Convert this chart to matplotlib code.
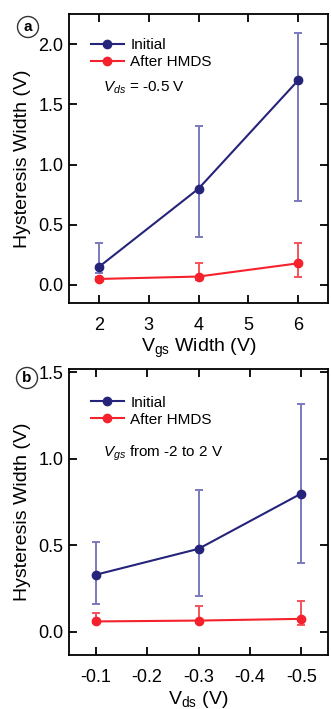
import numpy as np
import matplotlib.pyplot as plt
from matplotlib.patches import Circle

plt.rcParams['font.family'] = ['Liberation Sans', 'DejaVu Sans']
plt.rcParams['mathtext.fontset'] = 'custom'
plt.rcParams['mathtext.rm'] = 'Liberation Sans'
plt.rcParams['mathtext.it'] = 'Liberation Sans:italic'
plt.rcParams['axes.unicode_minus'] = False

# panel a: hysteresis width vs Vgs sweep width
vgs_width = [2, 4, 6]
a_init = [0.15, 0.80, 1.70]
a_init_lo = [0.10, 0.40, 0.70]
a_init_hi = [0.35, 1.32, 2.09]
a_hmds = [0.05, 0.07, 0.18]
a_hmds_lo = [0.03, 0.04, 0.07]
a_hmds_hi = [0.07, 0.18, 0.35]

# panel b: hysteresis width vs Vds
vds = [-0.1, -0.3, -0.5]
b_init = [0.33, 0.48, 0.80]
b_init_lo = [0.16, 0.21, 0.40]
b_init_hi = [0.52, 0.82, 1.32]
b_hmds = [0.06, 0.065, 0.075]
b_hmds_lo = [0.05, 0.05, 0.04]
b_hmds_hi = [0.11, 0.15, 0.18]

navy = '#26237a'
navy_err = '#7b79c0'
red = '#f5222d'
red_err = '#f5535b'

fig = plt.figure(figsize=(3.31, 7.09), dpi=100)
ax1 = fig.add_axes([0.2085, 0.5726, 0.7825, 0.4074])
ax2 = fig.add_axes([0.2085, 0.0762, 0.7825, 0.4033])


def draw(ax, x, yi, lo_i, hi_i, yh, lo_h, hi_h, leg_y):
    yi, yh = np.array(yi), np.array(yh)
    ax.errorbar(x, yi, yerr=[yi - np.array(lo_i), np.array(hi_i) - yi], fmt='none',
                ecolor=navy_err, elinewidth=1.4, capsize=3, capthick=1.4, zorder=2)
    ax.errorbar(x, yh, yerr=[yh - np.array(lo_h), np.array(hi_h) - yh], fmt='none',
                ecolor=red_err, elinewidth=1.4, capsize=3, capthick=1.4, zorder=2)
    ax.plot(x, yi, '-o', color=navy, lw=1.5, ms=6, label='Initial', zorder=3)
    ax.plot(x, yh, '-o', color=red, lw=1.5, ms=6, label='After HMDS', zorder=3)
    ax.tick_params(direction='in', length=6, width=1.3, top=True, right=True,
                   labelsize=13)
    ax.tick_params(axis='x', pad=10)
    ax.tick_params(axis='y', pad=4)
    for s in ax.spines.values():
        s.set_linewidth(1.3)
    ax.set_ylabel('Hysteresis Width (V)', fontsize=14, labelpad=5)
    ax.legend(loc='upper left', bbox_to_anchor=(0.03, leg_y), frameon=False,
              fontsize=11, handlelength=2.2, handletextpad=0.4,
              labelspacing=0.2, borderaxespad=0.5)


draw(ax1, vgs_width, a_init, a_init_lo, a_init_hi, a_hmds, a_hmds_lo, a_hmds_hi, 0.965)
ax1.set_xlim(1.4, 6.6)
ax1.set_ylim(-0.15, 2.25)
ax1.set_xticks([2, 3, 4, 5, 6])
ax1.set_yticks([0.0, 0.5, 1.0, 1.5, 2.0])
ax1.yaxis.set_major_formatter(plt.FormatStrFormatter('%.1f'))
ax1.set_xlabel(r'$\mathregular{V_{gs}}$ Width (V)', fontsize=14, labelpad=2)
ax1.text(0.13, 0.745, r'$V_{ds}$ = -0.5 V', transform=ax1.transAxes, fontsize=11,
         va='center')

draw(ax2, vds, b_init, b_init_lo, b_init_hi, b_hmds, b_hmds_lo, b_hmds_hi, 0.955)
ax2.set_xlim(-0.048, -0.552)
ax2.set_ylim(-0.134, 1.52)
ax2.set_xticks([-0.1, -0.2, -0.3, -0.4, -0.5])
ax2.set_yticks([0.0, 0.5, 1.0, 1.5])
ax2.yaxis.set_major_formatter(plt.FormatStrFormatter('%.1f'))
ax2.set_xlabel(r'$\mathregular{V_{ds}}$ (V)', fontsize=14, labelpad=2)
ax2.text(0.13, 0.705, r'$V_{gs}$ from -2 to 2 V', transform=ax2.transAxes, fontsize=11,
         va='center')

# circled panel letters
for letter, (cx, cy) in [('a', (28, 27)), ('b', (27, 378))]:
    fig.patches.append(Circle((cx, 709 - cy), 10.5, transform=None,
                              fill=False, lw=1.0, ec='#333333'))
    fig.text(cx / 331, 1 - cy / 709, letter, ha='center', va='center',
             fontsize=11, fontweight='bold')

fig.savefig('out.png', dpi=100)
